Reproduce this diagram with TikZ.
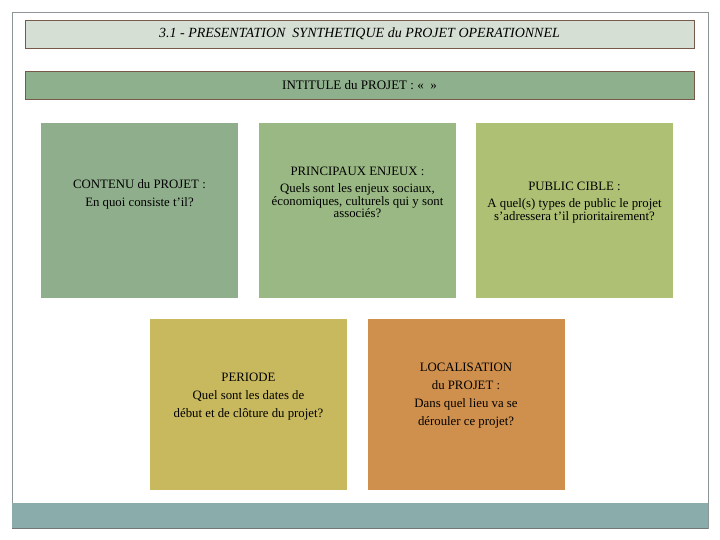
\documentclass[tikz,border=0pt]{standalone}
\usepackage{fontspec}
\setmainfont{Liberation Serif}
\usetikzlibrary{positioning,calc}
\definecolor{FrameGray}{RGB}{140,150,150}
\definecolor{BarLine}  {RGB}{120, 90, 75}
\definecolor{TitleFill}{RGB}{214,223,211}
\definecolor{NameFill} {RGB}{143,176,140}
\definecolor{TileOne}  {RGB}{143,174,140}
\definecolor{TileTwo}  {RGB}{154,184,131}
\definecolor{TileThree}{RGB}{174,192,116}
\definecolor{TileFour} {RGB}{200,185, 94}
\definecolor{TileFive} {RGB}{208,144, 77}
\definecolor{FootTeal} {RGB}{138,173,172}

\begin{document}
\begin{tikzpicture}[x=1pt,y=-1pt,
    bar/.style={draw=BarLine, line width=0.8pt, minimum width=669pt,
      minimum height=28pt, inner sep=0pt, font=\fontsize{13}{14}\selectfont},
    tile/.style={minimum width=197pt, minimum height=175pt, inner sep=0pt},
    tilelow/.style={tile, minimum height=171pt},
    txt/.style={align=center, font=\fontsize{12.8}{12.5}\selectfont}]
  \useasboundingbox (0,0) rectangle (720,540);
  % page frame and footer band
  \draw[FrameGray, line width=0.6pt] (12,12) rectangle (708,528);
  \fill[FootTeal] (12,503) rectangle (708,528);
  \draw[FrameGray!80!black, line width=0.6pt] (12,528) -- (708,528);

  % header bars
  \node[bar, fill=TitleFill] (title) at (359.5,34)
    {\fontsize{14}{15}\selectfont\itshape 3.1 - PRESENTATION\ \ SYNTHETIQUE du PROJET OPERATIONNEL};
  \node[bar, fill=NameFill] (intitule) at (359.5,85)
    {INTITULE du PROJET : « \ »};

  % upper row
  \node[tile, fill=TileOne]   (contenu) at (139.5,210.5) {};
  \node[tile, fill=TileTwo]   (enjeux)  at (357.5,210.5) {};
  \node[tile, fill=TileThree] (public)  at (574.5,210.5) {};
  % lower row
  \node[tilelow, fill=TileFour] (periode) at (248.5,404.5) {};
  \node[tilelow, fill=TileFive] (lieu)    at (466,404.5) {};

  % texts
  \node[txt] (contenuT) at ($(contenu.center)+(0,-16)$)
    {CONTENU du PROJET :\\[5pt] En quoi consiste t'il?};
  \node[txt] (enjeuxT) at ($(enjeux.center)+(0,-18)$)
    {PRINCIPAUX ENJEUX :\\[4.5pt] Quels sont les enjeux sociaux,\\
     économiques, culturels qui y sont\\ associés?};
  \node[txt] (publicT) at ($(public.center)+(0,-8)$)
    {PUBLIC CIBLE :\\[4.5pt] A quel(s) types de public le projet\\
     s'adressera t'il prioritairement?};
  \node[txt] (periodeT) at ($(periode.center)+(0,-8)$)
    {PERIODE\\[5.5pt] Quel sont les dates de\\[5.5pt]
     début et de clôture du projet?};
  \node[txt] (lieuT) at ($(lieu.center)+(0,-8.5)$)
    {LOCALISATION\\[5.5pt] du PROJET :\\[5.5pt] Dans quel lieu va se\\[5.5pt]
     dérouler ce projet?};
\end{tikzpicture}
\end{document}
